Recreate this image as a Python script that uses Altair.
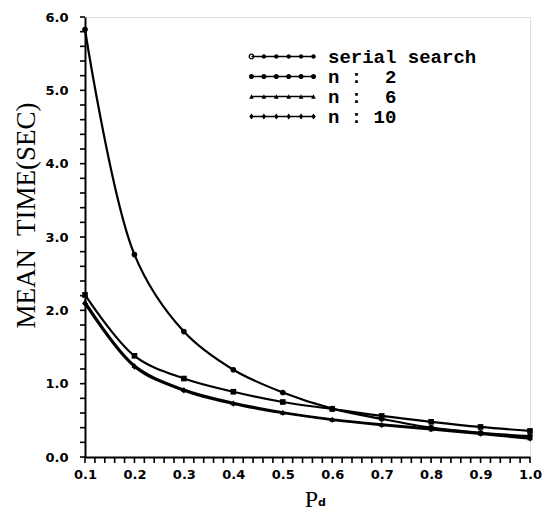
import altair as alt
import pandas as pd

# ---- data ----
pd_values = [0.1, 0.2, 0.3, 0.4, 0.5, 0.6, 0.7, 0.8, 0.9, 1.0]
serial_search = [5.83, 2.76, 1.71, 1.19, 0.88, 0.66, 0.52, 0.40, 0.33, 0.285]
n_2 = [2.21, 1.38, 1.07, 0.89, 0.75, 0.655, 0.56, 0.48, 0.41, 0.355]
n_6 = [2.12, 1.25, 0.92, 0.74, 0.61, 0.515, 0.445, 0.385, 0.325, 0.262]
n_10 = [2.09, 1.23, 0.905, 0.725, 0.60, 0.505, 0.435, 0.375, 0.315, 0.25]
series_names = ["serial search", "n :\u00a0 2", "n :\u00a0 6", "n : 10"]

x_ticks = [round(0.1 + 0.02 * i, 2) for i in range(46)]
y_ticks = [round(0.2 * i, 1) for i in range(31)]

rows = []
for name, vals in zip(series_names, [serial_search, n_2, n_6, n_10]):
    for xv, yv in zip(pd_values, vals):
        rows.append({"Pd": xv, "T": yv, "series": name})
df = pd.DataFrame(rows)

# ---- legend symbols: a line with six markers; 1 unit = 8 px (symbolSize 256) ----
U = 8.0
def u(px):
    return px / U

def circ(cx, r, hole=False):
    s = "0" if hole else "1"
    return f"M{cx-r:.3f},0A{r:.3f},{r:.3f} 0 1,{s} {cx+r:.3f},0A{r:.3f},{r:.3f} 0 1,{s} {cx-r:.3f},0Z"

def tri(cx, s):
    return f"M{cx:.3f},{-s:.3f}L{cx+s:.3f},{s:.3f}L{cx-s:.3f},{s:.3f}Z"

def diamond(cx, s):
    return f"M{cx:.3f},{-s*1.4:.3f}L{cx+s:.3f},0L{cx:.3f},{s*1.4:.3f}L{cx-s:.3f},0Z"

half = u(31)
t = u(0.8)
pos = [-half + i * (2 * half / 5) for i in range(6)]
bar = f"M{-half:.3f},{-t:.3f}H{half:.3f}V{t:.3f}H{-half:.3f}Z"
p_serial = bar + circ(pos[0], u(2.9)) + circ(pos[0], u(1.5), hole=True) + "".join(circ(c, u(2.3)) for c in pos[1:])
p_n2 = bar + "".join(circ(c, u(2.6)) for c in pos)
p_n6 = bar + "".join(tri(c, u(2.3)) for c in pos)
p_n10 = bar + "".join(diamond(c, u(2.2)) for c in pos)

xs = alt.X("Pd:Q", scale=alt.Scale(domain=[0.1, 1.0], nice=False, zero=False),
           axis=alt.Axis(values=x_ticks, tickCount=200, title="P", ticks=False,
                         labelExpr="abs(datum.value*10 - round(datum.value*10)) < 0.001 ? format(datum.value, '.1f') : ''",
                         labelFont="DejaVu Sans", labelFontWeight="bold", labelFontSize=13,
                         labelColor="black", labelPadding=11, domainColor="black", domainWidth=2,
                         grid=False, labelOverlap=False, labelFlush=False,
                         titleFont="Liberation Serif", titleFontSize=24, titleFontWeight="normal",
                         titleColor="black", titleX=226, titleY=49, titleAlign="center",
                         titleBaseline="alphabetic"))
ys = alt.Y("T:Q", scale=alt.Scale(domain=[0, 6], nice=False),
           axis=alt.Axis(values=y_ticks, tickCount=200, title="MEAN\u00a0 TIME(SEC)", ticks=False,
                         labelExpr="abs(datum.value - round(datum.value)) < 0.001 ? format(datum.value, '.1f') : ''",
                         labelFont="DejaVu Sans", labelFontWeight="bold", labelFontSize=13,
                         labelColor="black", labelPadding=17, domainColor="black", domainWidth=2,
                         grid=False, labelOverlap=False, labelFlush=False,
                         titleFont="Liberation Serif", titleFontSize=27, titleFontWeight="normal",
                         titleColor="black", titleX=-59, titleY=198, titleAngle=-90,
                         titleAlign="center", titleBaseline="middle"))

base = alt.Chart(df)

lines = base.mark_line(interpolate="catmull-rom", color="black", strokeWidth=2.2).encode(
    x=xs, y=ys, detail="series:N")

points = base.mark_point(filled=True, color="black", size=32, opacity=1).encode(
    x="Pd:Q", y="T:Q",
    shape=alt.Shape("series:N", scale=alt.Scale(domain=series_names,
                    range=["circle", "square", "triangle-up", "diamond"]), legend=None))

# tick marks drawn through the axis scales, just outside the plot area (not clipped)
xtick_layer = alt.Chart(pd.DataFrame({"Pd": x_ticks})).mark_tick(
    color="black", orient="vertical", thickness=1.6, size=6, opacity=1, clip=False).encode(
    x="Pd:Q", y=alt.value(443))
ytick_layer = alt.Chart(pd.DataFrame({"T": y_ticks})).mark_tick(
    color="black", orient="horizontal", thickness=1.6, size=5, opacity=1, clip=False).encode(
    y="T:Q", x=alt.value(-2.5))

legend_layer = base.transform_filter("datum.Pd > 5").transform_calculate(series2="datum.series").mark_point(
    filled=True, color="black").encode(
    x="Pd:Q", y="T:Q",
    shape=alt.Shape("series2:N", scale=alt.Scale(domain=series_names,
                    range=[p_serial, p_n2, p_n6, p_n10]),
                    legend=alt.Legend(title=None, orient="none", legendX=188, legendY=30,
                                      symbolSize=256, symbolFillColor="black",
                                      symbolStrokeColor="black", symbolStrokeWidth=0.5,
                                      symbolOpacity=1, labelFont="Liberation Mono",
                                      labelFontWeight="bold",
                                      labelFontSize=19, labelColor="black", labelOffset=36,
                                      rowPadding=0, padding=0, labelLimit=300)))

sub_df = pd.DataFrame({"t": ["d"]})
subscript = alt.Chart(sub_df).mark_text(font="DejaVu Sans", fontWeight="bold", fontSize=11,
                                        align="left", baseline="alphabetic", color="black").encode(
    x=alt.value(233), y=alt.value(489), text="t:N")

chart = alt.layer(lines, points, xtick_layer, ytick_layer, legend_layer, subscript).resolve_scale(
    shape="independent").properties(
    width=445, height=440,
    autosize=alt.AutoSizeParams(type="none"),
    padding={"left": 77, "top": 9, "right": 12, "bottom": 56},
).configure_view(stroke="black", strokeWidth=2).configure(background="white")

chart.save("out.html", embed_options={"renderer": "svg", "actions": False})
